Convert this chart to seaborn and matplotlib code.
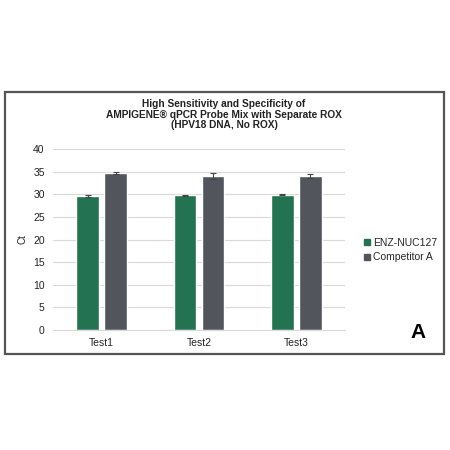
import pandas as pd
import numpy as np
import seaborn as sns
import matplotlib.pyplot as plt
from matplotlib.patches import Rectangle

tests = ["Test1", "Test2", "Test3"]
enz_ct = [29.6, 29.8, 29.9]
enz_err = [0.15, 0.12, 0.12]
comp_ct = [34.7, 34.0, 34.1]
comp_err = [0.3, 0.7, 0.4]
series = ["ENZ-NUC127", "Competitor A"]
colors = ["#237352", "#52565c"]

df = pd.DataFrame({
    "test": tests * 2,
    "ct": enz_ct + comp_ct,
    "err": enz_err + comp_err,
    "series": [series[0]] * 3 + [series[1]] * 3,
})

sns.set_style("white")
plt.rcParams["font.family"] = ["Liberation Sans", "DejaVu Sans"]

fig = plt.figure(figsize=(4.5, 4.5), dpi=100)
ax = fig.add_axes([53 / 450, 120 / 450, 292 / 450, 181 / 450])

sns.barplot(data=df, x="test", y="ct", hue="series", palette=colors,
            width=0.58, gap=0.2, errorbar=None, legend=False, ax=ax,
            saturation=1)

# error bars on top of each bar
for bars, errs in zip(ax.containers, [enz_err, comp_err]):
    for b, e in zip(bars, errs):
        ax.errorbar(b.get_x() + b.get_width() / 2, b.get_height(), yerr=e,
                    fmt="none", ecolor="#444444", elinewidth=0.8, capsize=2.5,
                    capthick=0.8)

ax.set_ylim(0, 40)
ax.set_xlim(-0.5, 2.5)
ax.set_yticks(range(0, 41, 5))
ax.grid(axis="y", color="#d9d9d9", linewidth=0.8)
ax.set_axisbelow(True)
for s in ["top", "right", "left"]:
    ax.spines[s].set_visible(False)
ax.spines["bottom"].set_color("#d9d9d9")
ax.tick_params(axis="both", length=0, labelsize=7.5, colors="#222222", pad=6)
ax.set_xlabel("")
ax.set_ylabel("Ct", fontsize=7, color="#222222", labelpad=4)

title_lines = ["High Sensitivity and Specificity of",
               "AMPIGENE\u00ae qPCR Probe Mix with Separate ROX",
               "(HPV18 DNA, No ROX)"]
for line, ypix in zip(title_lines, [104, 114.5, 124.5]):
    fig.text(224 / 450, 1 - ypix / 450, line, ha="center", va="center",
             fontsize=7.3, fontweight="bold", color="#222222")

handles = [Rectangle((0, 0), 1, 1, color=c) for c in colors]
fig.legend(handles, series, loc="center left", bbox_to_anchor=(355 / 450, 1 - 250 / 450),
           frameon=False, fontsize=7.5, handlelength=0.55, handleheight=0.55,
           handletextpad=0.25, labelspacing=0.45)

fig.text(418 / 450, 1 - 333 / 450, "A", ha="center", va="center",
         fontsize=15, fontweight="bold", color="black")

fig.patches.append(Rectangle((4.5 / 450, 1 - 354 / 450), 439 / 450, 262 / 450,
                             transform=fig.transFigure, fill=False,
                             edgecolor="#555555", linewidth=1.6))

fig.savefig("out.png", dpi=100, facecolor="white")
